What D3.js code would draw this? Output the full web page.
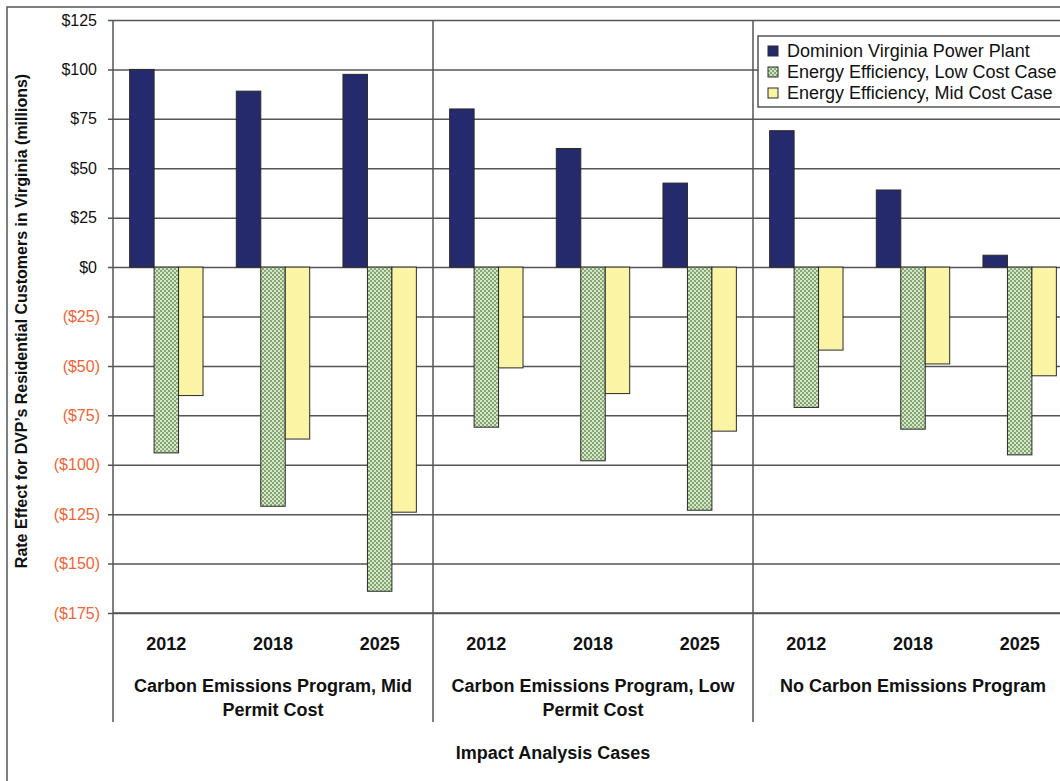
<!DOCTYPE html>
<html>
<head>
<meta charset="utf-8">
<script src="https://cdn.jsdelivr.net/npm/d3@7"></script>
<style>
  body { margin: 0; background: #fff; }
  text { font-family: Arial, "Liberation Sans", sans-serif; }
</style>
</head>
<body>
<div id="chart"></div>
<script>
var width = 1060;
var height = 781;

// data
var groups = ['Carbon Emissions Program, Mid Permit Cost', 'Carbon Emissions Program, Low Permit Cost', 'No Carbon Emissions Program'];
var groupLines = [['Carbon Emissions Program, Mid', 'Permit Cost'], ['Carbon Emissions Program, Low', 'Permit Cost'], ['No Carbon Emissions Program']];
var years = ['2012', '2018', '2025'];
var dominion = [100, 89, 97.5, 80, 60, 42.5, 69, 39, 6];
var eeLow = [-94, -121, -164, -81, -98, -123, -71, -82, -95];
var eeMid = [-65, -87, -124, -51, -64, -83, -42, -49, -55];
var seriesNames = ['Dominion Virginia Power Plant', 'Energy Efficiency, Low Cost Case', 'Energy Efficiency, Mid Cost Case'];
var tickValues = [125, 100, 75, 50, 25, 0, -25, -50, -75, -100, -125, -150, -175];

var seriesValues = [dominion, eeLow, eeMid];
var fills = ['#252a6d', 'url(#checker)', '#fbf4a5'];

var cats = [];
groups.forEach((g, gi) => years.forEach((y, yi) => cats.push({ id: gi + '-' + yi, group: gi, year: y, idx: cats.length })));

var svg = d3.select('#chart')
    .append('svg')
    .attr('width', width)
    .attr('height', height);

var defs = svg.append('defs');
var pat = defs.append('pattern')
    .attr('id', 'checker')
    .attr('patternUnits', 'userSpaceOnUse')
    .attr('width', 4)
    .attr('height', 4);
pat.append('rect').attr('width', 4).attr('height', 4).attr('fill', '#84a872');
pat.append('rect').attr('width', 2).attr('height', 2).attr('fill', '#d6e4ca');
pat.append('rect').attr('x', 2).attr('y', 2).attr('width', 2).attr('height', 2).attr('fill', '#d6e4ca');

// outer frame
svg.append('rect')
    .attr('x', 7).attr('y', 7)
    .attr('width', 1200).attr('height', 900)
    .attr('fill', 'none')
    .attr('stroke', '#555')
    .attr('stroke-width', 1.5);

var plotLeft = 113, plotRight = 1073, plotTop = 20, plotBottom = 613;

var x0 = d3.scaleBand()
    .domain(cats.map(d => d.id))
    .range([plotLeft, plotRight])
    .padding(0);

var x1 = d3.scaleBand()
    .domain(d3.range(3))
    .range([0, x0.bandwidth()])
    .paddingInner(0)
    .paddingOuter(0.68);

var y = d3.scaleLinear()
    .domain([-175, 125])
    .range([plotBottom, plotTop]);

// gridlines + ticks
var yAxis = d3.axisLeft(y)
    .tickValues(tickValues)
    .tickSize(-(plotRight - plotLeft + 40))
    .tickPadding(14)
    .tickFormat(v => v < 0 ? '($' + (-v) + ')' : '$' + v);

var gy = svg.append('g')
    .attr('transform', `translate(${plotLeft},0)`)
    .call(yAxis);
gy.select('.domain').remove();
gy.selectAll('.tick line')
    .attr('x1', -5)
    .attr('stroke', '#555')
    .attr('stroke-width', 1.5);
gy.selectAll('.tick text')
    .attr('font-size', 16)
    .attr('fill', d => d < 0 ? '#f26434' : '#111')
    .attr('x', d => d < 0 ? -13 : -16);

// vertical lines: axis and group separators
var sepX = [plotLeft].concat(groups.slice(1).map((g, gi) => x0((gi + 1) + '-0')));
svg.selectAll('.sep')
    .data(sepX)
    .enter()
    .append('line')
    .attr('class', 'sep')
    .attr('x1', d => d).attr('x2', d => d)
    .attr('y1', plotTop).attr('y2', 722)
    .attr('stroke', '#555')
    .attr('stroke-width', 1.5);

// bottom axis line
svg.append('line')
    .attr('x1', plotLeft).attr('x2', width)
    .attr('y1', plotBottom).attr('y2', plotBottom)
    .attr('stroke', '#555')
    .attr('stroke-width', 1.5);

// bars
seriesValues.forEach((vals, si) => {
    svg.append('g')
        .selectAll('rect')
        .data(cats)
        .enter()
        .append('rect')
        .attr('x', d => x0(d.id) + x1(si))
        .attr('y', d => y(Math.max(0, vals[d.idx])))
        .attr('width', x1.bandwidth())
        .attr('height', d => Math.abs(y(vals[d.idx]) - y(0)))
        .attr('fill', fills[si])
        .attr('stroke', '#2a2a2a')
        .attr('stroke-width', 1);
});

// year labels
svg.selectAll('.year')
    .data(cats)
    .enter()
    .append('text')
    .attr('x', d => x0(d.id) + x0.bandwidth() / 2)
    .attr('y', 650)
    .attr('text-anchor', 'middle')
    .attr('font-size', 18)
    .attr('font-weight', 'bold')
    .attr('fill', '#111')
    .text(d => d.year);

// group labels
groups.forEach((g, gi) => {
    var cx = x0(gi + '-1') + x0.bandwidth() / 2;
    svg.append('text')
        .attr('x', cx)
        .attr('y', 692)
        .attr('text-anchor', 'middle')
        .attr('font-size', 18)
        .attr('font-weight', 'bold')
        .attr('fill', '#111')
        .selectAll('tspan')
        .data(groupLines[gi])
        .enter()
        .append('tspan')
        .attr('x', cx)
        .attr('dy', (d, i) => i ? 24 : 0)
        .text(d => d);
});

// axis titles
svg.append('text')
    .attr('x', 553)
    .attr('y', 759)
    .attr('text-anchor', 'middle')
    .attr('font-size', 18)
    .attr('font-weight', 'bold')
    .attr('fill', '#111')
    .text('Impact Analysis Cases');

svg.append('text')
    .attr('transform', 'translate(27,321) rotate(-90)')
    .attr('text-anchor', 'middle')
    .attr('font-size', 16)
    .attr('font-weight', 'bold')
    .attr('fill', '#111')
    .text("Rate Effect for DVP\u2019s Residential Customers in Virginia (millions)");

// legend
var legend = svg.append('g').attr('transform', 'translate(758,36)');
legend.append('rect')
    .attr('width', 400).attr('height', 71)
    .attr('fill', '#fff')
    .attr('stroke', '#555')
    .attr('stroke-width', 1.5);
var items = legend.selectAll('.item')
    .data(seriesNames)
    .enter()
    .append('g')
    .attr('transform', (d, i) => `translate(10,${15 + i * 21})`);
items.append('rect')
    .attr('x', 0).attr('y', -5)
    .attr('width', 10).attr('height', 10)
    .attr('fill', (d, i) => fills[i])
    .attr('stroke', '#2a2a2a')
    .attr('stroke-width', 1);
items.append('text')
    .attr('x', 19)
    .attr('y', 6)
    .attr('font-size', 18)
    .attr('fill', '#111')
    .text(d => d);
</script>
</body>
</html>
